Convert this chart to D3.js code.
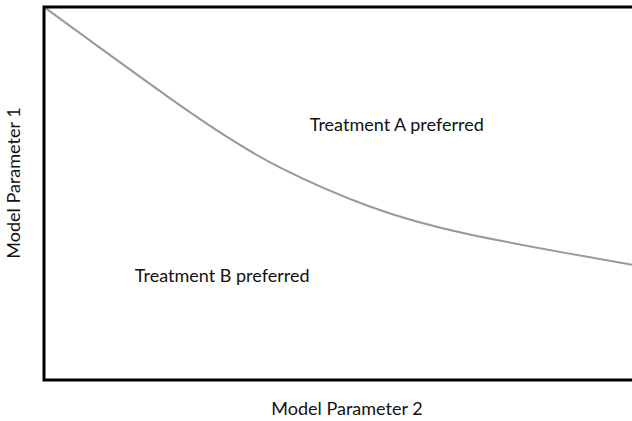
<!DOCTYPE html>
<html><head><meta charset="utf-8">
<script src="https://cdn.jsdelivr.net/npm/d3@7"></script>
<style>body{margin:0;background:#fff}text{font-family:Lato,"Open Sans",sans-serif;fill:#111}</style>
</head><body>
<svg id="c" width="632" height="421"></svg>
<script>
const xValues = [0, 2.48, 4.01, 5.54, 7.24, 10];
const yValues = [10, 7.18, 5.70, 4.65, 3.90, 3.09];
const regionLabels = ["Treatment A preferred", "Treatment B preferred"];
const regionPos = [[6.0, 6.68], [3.03, 2.62]];
const axisTitles = ["Model Parameter 2", "Model Parameter 1"];

const svg = d3.select("#c");
const L = 44, R = 632, T = 7, B = 380;
const x = d3.scaleLinear().domain([0, 10]).range([L, R]);
const y = d3.scaleLinear().domain([0, 10]).range([B, T]);

const data = xValues.map((v, i) => [v, yValues[i]]);
svg.append("path").datum(data)
  .attr("fill", "none").attr("stroke", "#999").attr("stroke-width", 2)
  .attr("d", d3.line().x(d => x(d[0])).y(d => y(d[1])).curve(d3.curveNatural));

// frame
svg.append("path").attr("fill", "none").attr("stroke", "#000").attr("stroke-width", 3)
  .attr("d", `M${R + 5},${y(10)}H${x(0)}V${y(0)}H${R + 5}`);

regionLabels.forEach((t, i) => {
  svg.append("text").attr("x", x(regionPos[i][0])).attr("y", y(regionPos[i][1]))
    .attr("text-anchor", "middle").attr("font-size", 18).text(t);
});
svg.append("text").attr("x", 347).attr("y", 415).attr("text-anchor", "middle")
  .attr("font-size", 18).text(axisTitles[0]);
svg.append("text").attr("transform", "translate(20,183) rotate(-90)")
  .attr("text-anchor", "middle").attr("font-size", 18).text(axisTitles[1]);
</script>
</body></html>
